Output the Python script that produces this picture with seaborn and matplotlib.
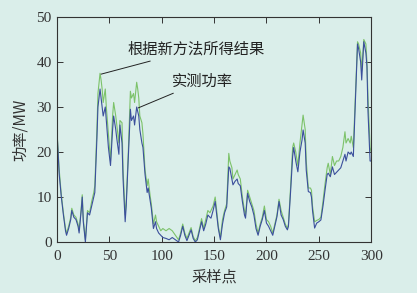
import pandas as pd
import seaborn as sns
import matplotlib.pyplot as plt

# sample index and values
sample = [0, 2, 4, 6, 8, 9, 11, 13, 14, 16, 18, 20, 21, 23, 24, 25, 27, 29, 31, 33,
          35, 36, 38, 39, 41, 42, 43, 44, 46, 47, 49, 51, 53, 54, 56, 57, 59, 60, 62, 63,
          65, 66, 68, 70, 71, 73, 74, 76, 77, 78, 79, 81, 82, 84, 86, 87, 89, 90, 92, 94,
          95, 97, 99, 101, 104, 107, 110, 113, 116, 118, 120, 122, 124, 126, 128, 130, 132, 134, 136, 138,
          140, 142, 144, 146, 147, 149, 151, 152, 154, 156, 158, 160, 162, 164, 165, 167, 168, 170, 172, 173,
          175, 177, 179, 180, 182, 184, 186, 188, 190, 192, 194, 196, 198, 200, 202, 204, 206, 208, 210, 212,
          214, 216, 218, 220, 221, 223, 225, 226, 228, 230, 232, 234, 235, 237, 238, 240, 242, 243, 244, 246,
          248, 250, 252, 254, 256, 258, 259, 261, 263, 265, 267, 269, 271, 273, 275, 276, 278, 280, 281, 283,
          285, 287, 288, 290, 291, 293, 295, 296, 297, 299, 300]
measured = [24, 15, 10, 6, 2.5, 1.5, 3, 5, 7, 5.5, 5, 3.5, 2, 7, 10, 4.5, 0, 6.5, 6, 8,
            10, 11, 23, 30, 34, 32, 30, 28, 30, 27, 21, 17, 25, 28, 25, 23, 19.5, 26, 22, 14,
            4.5, 8, 18.5, 29.5, 27, 28, 26, 30, 29, 28, 25, 22, 21, 15, 11, 12, 9, 7.5, 3, 4.5,
            3, 2, 1.5, 1, 0.8, 0.5, 1, 0.5, 0, 1.5, 3.5, 1.5, 0.3, 1.5, 2.7, 0.8, 0, 0.5, 2.5, 4.5,
            2.5, 4, 6, 5.5, 5.3, 7, 9, 7, 3, 0.5, 4, 6.5, 7.8, 16.7, 16.4, 14, 12.7, 13.5, 14, 13,
            12.5, 9, 6, 5.3, 10.8, 9, 7.8, 6, 3, 1.5, 3.5, 5, 7, 4.2, 3.5, 2.5, 1.5, 3.5, 5.6, 9,
            6, 5, 3.5, 2.7, 3.5, 11, 19, 21, 18, 15.6, 20, 22.7, 24.9, 22, 16, 11.2, 11, 10, 7, 3.1,
            4.2, 4.5, 4.9, 8, 11.6, 15, 15.3, 14.5, 16.7, 15, 15.5, 16, 16.5, 18, 19.5, 18, 20, 19.5, 20, 19,
            31.5, 44, 43, 40, 36, 44.5, 42, 39, 29, 18, 18]
predicted = [24, 16, 10.5, 6.5, 3, 2, 3.5, 5.5, 7.5, 6, 5.5, 4, 2.5, 7.5, 10.5, 5, 0.5, 7, 6.5, 9,
             11, 12.5, 25, 33, 37.5, 36, 34, 31, 34, 30, 24, 18, 28, 31, 28, 26, 22, 27, 26.5, 16,
             6, 9, 20, 33.5, 32, 33, 31, 35.5, 34, 32, 28, 26.5, 24, 16, 12.5, 14, 10, 8.5, 4, 6,
             4.5, 3.5, 2.5, 3, 2.5, 3, 2.5, 1.5, 0.5, 2, 4, 2, 0.8, 2, 3.2, 1.2, 0.3, 1, 3, 5.2,
             3, 5, 7, 6.5, 7, 8, 10, 8, 3.5, 1, 5, 7, 8.5, 19.7, 18, 16.5, 14, 15, 16, 15,
             14, 10, 7, 6, 11.5, 10, 8.5, 7, 4, 2, 4, 5.5, 8, 5, 4.5, 3.5, 2, 4, 6, 9.5,
             7, 5.5, 4, 3, 4, 12, 21, 22, 20, 17, 22, 26, 28.2, 25, 18, 12, 12, 11.5, 8, 4.5,
             4.8, 5, 5.5, 9, 13, 16.5, 17.5, 15, 19, 17, 18, 18, 19, 21, 24.5, 22, 23, 22, 23.5, 21,
             33, 44.5, 44, 42, 38, 45, 44, 40, 32, 21, 20]

df = pd.DataFrame({"sample": sample, "measured": measured, "predicted": predicted})

bg = "#daeeea"
sns.set_style("ticks")
plt.rcParams["font.family"] = ["Liberation Serif", "Noto Sans CJK SC"]

fig = plt.figure(figsize=(4.17, 2.93), dpi=100, facecolor=bg)
ax = fig.add_axes([0.137, 0.174, 0.753, 0.768], facecolor=bg)

sns.lineplot(data=df, x="sample", y="predicted", ax=ax, color="#7cc26a", linewidth=0.8)
sns.lineplot(data=df, x="sample", y="measured", ax=ax, color="#3b4f9c", linewidth=0.8)

ax.set_xlim(0, 300)
ax.set_ylim(0, 50)
ax.set_xticks([0, 50, 100, 150, 200, 250, 300])
ax.set_yticks([0, 10, 20, 30, 40, 50])
ax.tick_params(direction="in", length=4, width=0.7, top=True, right=True,
               labelsize=11, colors="#333333")
ax.tick_params(axis="x", pad=6)
ax.tick_params(axis="y", pad=4)
for s in ax.spines.values():
    s.set_color("#333333")
    s.set_linewidth(0.8)

cjk = ["Noto Sans CJK SC", "DejaVu Sans"]
ax.set_xlabel("采样点", fontsize=11, family=cjk, color="#333333", labelpad=4)
ax.set_ylabel("功率/MW", fontsize=11, family=cjk, color="#333333", labelpad=5)

ax.annotate("根据新方法所得结果", xy=(42, 37.3), xytext=(67, 42.9),
            fontsize=11, family=cjk, color="#222222", va="center",
            arrowprops=dict(arrowstyle="-", color="#222222", lw=0.7, shrinkA=1, shrinkB=0))
ax.annotate("实测功率", xy=(77.5, 29.8), xytext=(110, 35.8),
            fontsize=11, family=cjk, color="#222222", va="center",
            arrowprops=dict(arrowstyle="-", color="#222222", lw=0.7, shrinkA=1, shrinkB=0))

fig.savefig("out.png", dpi=100, facecolor=bg)
